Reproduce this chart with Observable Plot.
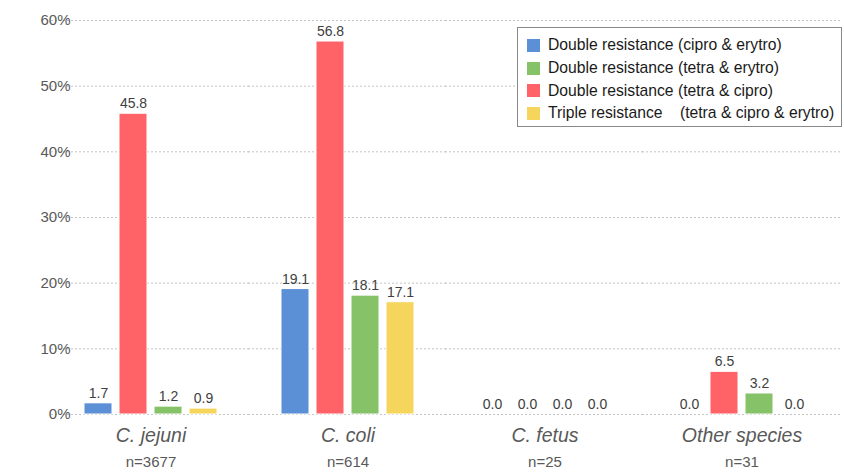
<!DOCTYPE html>
<html>
<head>
<meta charset="utf-8">
<script src="https://cdn.jsdelivr.net/npm/d3@7"></script>
<script src="https://cdn.jsdelivr.net/npm/@observablehq/plot@0.6"></script>
<style>
  html, body { margin: 0; padding: 0; background: #fff; }
  #wrap { position: relative; width: 844px; height: 472px; font-family: "Liberation Sans", Arial, sans-serif; }
  #legend { position: absolute; left: 517px; top: 27px; width: 325px; height: 100px; box-sizing: border-box;
    border: 1px solid #888; background: #fff; padding: 6px 0 0 9px; font-size: 15.7px; color: #1a1a1a; }
  #legend .item { display: flex; align-items: center; height: 22.7px; }
  #legend .sw { width: 13px; height: 13px; margin-right: 8px; flex: none; }
</style>
</head>
<body>
<div id="wrap"><div id="chart"></div><div id="legend"></div></div>
<script>
const species = ["C. jejuni", "C. coli", "C. fetus", "Other species"];
const counts = ["n=3677", "n=614", "n=25", "n=31"];
const seriesNames = [
  "Double resistance (cipro & erytro)",
  "Double resistance (tetra & cipro)",
  "Double resistance (tetra & erytro)",
  "Triple resistance (tetra & cipro & erytro)"
];
const legendOrder = [0, 2, 1, 3];
const legendLabels = [
  "Double resistance (cipro & erytro)",
  "Double resistance (tetra & cipro)",
  "Double resistance (tetra & erytro)",
  "Triple resistance&nbsp;&nbsp;&nbsp;&nbsp;(tetra & cipro & erytro)"
];
const colors = ["#5b8fd6", "#ff6368", "#86c267", "#f5d55c"];
const cipro_erytro = [1.7, 19.1, 0.0, 0.0];
const tetra_cipro = [45.8, 56.8, 0.0, 6.5];
const tetra_erytro = [1.2, 18.1, 0.0, 3.2];
const triple = [0.9, 17.1, 0.0, 0.0];
const yTicks = [0, 10, 20, 30, 40, 50, 60];

const seriesValues = [cipro_erytro, tetra_cipro, tetra_erytro, triple];
const data = [];
species.forEach((sp, i) => {
  seriesNames.forEach((s, j) => data.push({species: sp, series: s, value: seriesValues[j][i]}));
});
const labels = species.map((sp, i) => ({species: sp, n: counts[i]}));

const font = "'Liberation Sans', Arial, sans-serif";
const chart = Plot.plot({
  width: 844,
  height: 472,
  marginLeft: 52,
  marginRight: 4,
  marginTop: 20,
  marginBottom: 58,
  style: {fontFamily: font, fontSize: "14px", color: "#595959", background: "#fff"},
  fx: {domain: species, paddingInner: 0.274, paddingOuter: 0.137, axis: null},
  x: {domain: seriesNames, paddingInner: 0.2, paddingOuter: 0.12, axis: null},
  y: {domain: [0, 60], ticks: yTicks, tickFormat: d => d + "%", label: null, tickSize: 0, tickPadding: 8},
  color: {domain: seriesNames, range: colors},
  marks: [
    Plot.ruleY(yTicks, {stroke: "#c4c4c4", strokeDasharray: "2,2", insetLeft: -28, insetRight: -28}),
    Plot.axisY({ticks: yTicks, tickFormat: d => d + "%", tickSize: 0, tickPadding: 9, fontSize: 15, fill: "#595959", label: null}),
    Plot.barY(data, {fx: "species", x: "series", y: "value", fill: "series", stroke: "#ffffff", strokeWidth: 1}),
    Plot.text(data, {fx: "species", x: "series", y: "value", text: d => d.value.toFixed(1), dy: -10, fontSize: 14, fill: "#404040"}),
    Plot.text(labels, {fx: "species", text: "species", frameAnchor: "bottom", dy: 27, fontSize: 19.5, fontStyle: "italic", fill: "#595959"}),
    Plot.text(labels, {fx: "species", text: "n", frameAnchor: "bottom", dy: 52, fontSize: 15, fill: "#595959"})
  ]
});
document.getElementById("chart").appendChild(chart);

const legend = document.getElementById("legend");
legendOrder.forEach(j => {
  const item = document.createElement("div");
  item.className = "item";
  item.innerHTML = `<span class="sw" style="background:${colors[j]}"></span><span>${legendLabels[j]}</span>`;
  legend.appendChild(item);
});
</script>
</body>
</html>
